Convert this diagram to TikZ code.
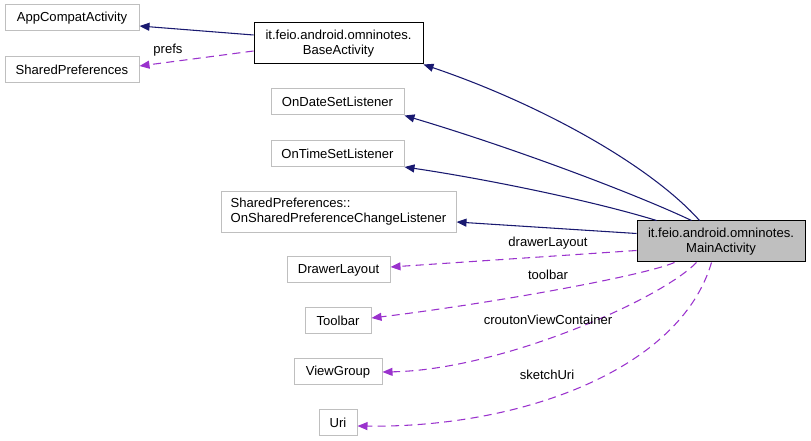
\documentclass[tikz,border=0pt]{standalone}
\usepackage{fontspec}
\setmainfont{Liberation Sans}
\usetikzlibrary{arrows.meta, calc, positioning}
\definecolor{edgenavy}{HTML}{191970}
\definecolor{usepurple}{HTML}{9A32CD}
\definecolor{boxgrey}{HTML}{BFBFBF}

\begin{document}
\begin{tikzpicture}[x=0.75pt, y=-0.75pt,
    cls/.style={draw=boxgrey, line width=0.75pt, fill=white, inner sep=0pt, minimum height=19.5pt, font=\fontsize{9.8}{11.25}\selectfont},
    twoline/.style={cls, minimum height=30.75pt},
    focus/.style={twoline, draw=black, fill=boxgrey},
    inh/.style={edgenavy, line width=0.8pt, -{Triangle[length=7.5pt,width=6pt]}},
    usage/.style={usepurple, line width=0.8pt, dash pattern=on 6pt off 4pt, -{Triangle[length=7.5pt,width=6pt]}},
    lbl/.style={font=\fontsize{9.8}{11.25}\selectfont, inner sep=0pt}]
  \useasboundingbox (0,0) rectangle (811,441);
  \node[cls, minimum width=100.5pt] (app) at (72,18) {AppCompatActivity};
  \node[cls, minimum width=100.5pt] (prefs) at (72,69.5) {SharedPreferences};
  \node[twoline, draw=black, minimum width=126.75pt, align=center] (base) at (338.5,43.5) {it.feio.android.omninotes.\\BaseActivity};
  \node[cls, minimum width=99.75pt] (date) at (337.5,102) {OnDateSetListener};
  \node[cls, minimum width=99.75pt] (time) at (337.5,153.5) {OnTimeSetListener};
  \node[twoline, minimum width=176.25pt, align=left] (change) at (338.5,212) {SharedPreferences::\\OnSharedPreferenceChangeListener};
  \node[cls, minimum width=77.25pt] (drawer) at (338.5,270) {DrawerLayout};
  \node[cls, minimum width=49.5pt] (toolbar) at (338,321) {Toolbar};
  \node[cls, minimum width=66pt] (group) at (338,372) {ViewGroup};
  \node[cls, minimum width=28.5pt] (uri) at (338,423) {Uri};
  \node[focus, minimum width=126pt, align=center] (main) at (721,241.5) {it.feio.android.omninotes.\\MainActivity};

  \draw[inh] ($(base.west)+(0,-8.5)$) -- ($(app.east)+(0,8)$);
  \draw[usage] ($(base.west)+(0,7.5)$) -- ($(prefs.east)+(0,-3.5)$);
  \node[lbl] (prefslbl) at (168,50) {prefs};

  \draw[inh] ($(main.north west)+(63,0)$) .. controls (650,165) and (540,104) .. (base.south east);
  \draw[inh] ($(main.north west)+(55,0)$) .. controls (640,196) and (520,150) .. (date.south east);
  \draw[inh] ($(main.north west)+(20,0)$) .. controls (590,200) and (480,178) .. (time.south east);
  \draw[inh] ($(main.north west)+(0,13)$) -- ($(change.east)+(0,10)$);

  \draw[usage] ($(main.north west)+(0,30)$) -- ($(drawer.east)+(0,-3)$);
  \node[lbl] (drawerlbl) at (548,243) {drawerLayout};
  \draw[usage] ($(main.south west)+(38,0)$) .. controls (640,277) and (480,305) .. ($(toolbar.east)+(0,-3)$);
  \node[lbl] (toolbarlbl) at (548,275) {toolbar};
  \draw[usage] ($(main.south west)+(60,0)$) .. controls (660,300) and (500,370) .. (group.east);
  \node[lbl] (grouplbl) at (548,320) {croutonViewContainer};
  \draw[usage] ($(main.south west)+(75,0)$) .. controls (680,370) and (520,428) .. ($(uri.east)+(0,3)$);
  \node[lbl] (urilbl) at (547,375) {sketchUri};
\end{tikzpicture}
\end{document}
